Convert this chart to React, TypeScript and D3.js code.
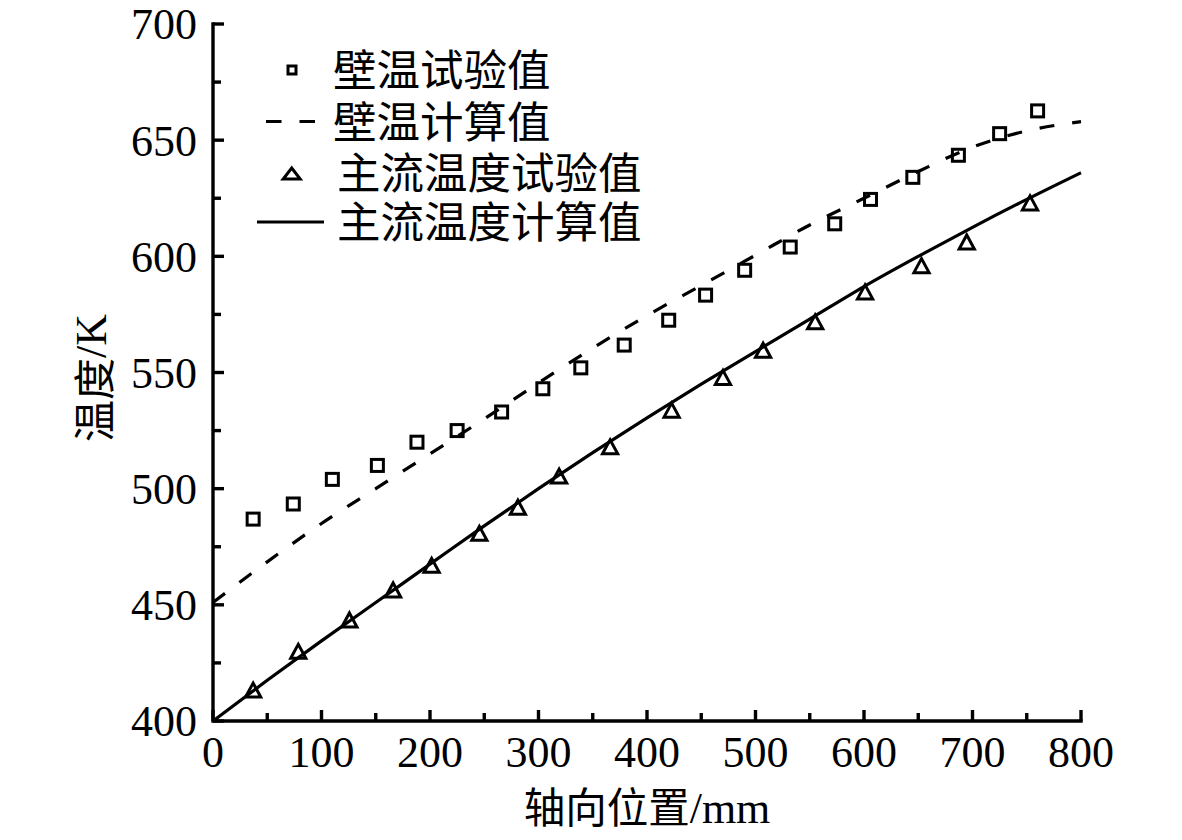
import React from "react";
import * as d3 from "d3";

// ---- data ----
const wallExpX = [37, 74, 110, 151.5, 188, 225, 266, 304, 339, 379, 420, 454, 490, 532, 573, 606, 645, 687, 725, 760];
const wallExpT = [486.9, 493.4, 504, 510, 520, 525, 533, 543, 552, 561.8, 572.5, 583.3, 594, 604, 614, 624.5, 634, 643.5, 652.8, 662.6];

const mainExpX = [37, 78.6, 125.7, 166, 201.5, 245.5, 281, 319, 366, 422.7, 470, 507, 555, 601, 653, 694.7, 753];
const mainExpT = [413.3, 430, 443.5, 456.4, 467, 480.8, 492, 505.4, 518, 533.8, 547.9, 559.6, 571.8, 584.7, 596, 606.2, 623];

const calcX = [0, 50, 100, 150, 200, 250, 300, 350, 400, 450, 500, 550, 600, 650, 700, 750, 800];
const wallCalcT = [451, 468.5, 485, 500, 515, 530, 545.5, 560.5, 574.5, 587.5, 600.5, 613.5, 625, 636.5, 647, 654, 658];
const mainCalcT = [400, 417.5, 434.5, 451, 467.5, 484, 500, 515.5, 530.5, 545, 559, 573, 587, 600, 612.5, 624.5, 636];

const xTicks = [0, 100, 200, 300, 400, 500, 600, 700, 800];
const yTicks = [400, 450, 500, 550, 600, 650, 700];

const legendLabels = ["壁温试验值", "壁温计算值", "主流温度试验值", "主流温度计算值"];
const xLabel = "轴向位置/mm";
const yLabel = "温度/K";

// ---- layout ----
const W = 1182;
const H = 840;
const X0 = 213;
const X1 = 1081;
const Y0 = 721;
const Y1 = 24;
const SERIF = "'Liberation Serif', 'Times New Roman', 'Noto Sans CJK SC', serif";
const CJK = "'Noto Sans CJK SC', 'Liberation Serif', sans-serif";

export default function App() {
  const x = d3.scaleLinear().domain([0, 800]).range([X0, X1]);
  const y = d3.scaleLinear().domain([400, 700]).range([Y0, Y1]);

  const xMinor = xTicks.slice(0, -1).map((t) => t + 50);
  const yMinor = yTicks.slice(0, -1).map((t) => t + 25);

  const line = d3
    .line<number>()
    .x((_, i) => x(calcX[i]))
    .y((d) => y(d))
    .curve(d3.curveMonotoneX);

  const sq = 12;
  const triPath = (cx: number, cy: number, hw: number, h: number) =>
    `M${cx - hw},${cy + h / 2}L${cx + hw},${cy + h / 2}L${cx},${cy - h / 2}Z`;

  const legendRowsY = [67.5, 119, 170, 219.5];
  const legendTextX = [333, 333, 337, 337];

  return (
    <svg
      width={W}
      height={H}
      style={{ position: "absolute", left: 0, top: 0, background: "#fff" }}
    >
      <rect x={0} y={0} width={W} height={H} fill="#fff" />

      {/* calc lines */}
      <path
        d={line(wallCalcT) || ""}
        fill="none"
        stroke="#000"
        strokeWidth={3.2}
        strokeDasharray="15 18"
      />
      <path d={line(mainCalcT) || ""} fill="none" stroke="#000" strokeWidth={3.2} />

      {/* experimental markers */}
      {wallExpX.map((v, i) => (
        <rect
          key={"s" + i}
          x={x(v) - sq / 2}
          y={y(wallExpT[i]) - sq / 2}
          width={sq}
          height={sq}
          fill="none"
          stroke="#000"
          strokeWidth={3}
        />
      ))}
      {mainExpX.map((v, i) => (
        <path
          key={"t" + i}
          d={triPath(x(v), y(mainExpT[i]), 7.6, 14)}
          fill="none"
          stroke="#000"
          strokeWidth={3}
          strokeLinejoin="miter"
        />
      ))}

      {/* axes */}
      <g stroke="#000" strokeWidth={3.4} fill="none">
        <path d={`M${X0},${Y1}V${Y0}H${X1}`} strokeLinecap="square" />
        {xTicks.map((t) => (
          <line key={"xt" + t} x1={x(t)} x2={x(t)} y1={Y0} y2={Y0 - 11} />
        ))}
        {xMinor.map((t) => (
          <line key={"xm" + t} x1={x(t)} x2={x(t)} y1={Y0} y2={Y0 - 8} />
        ))}
        {yTicks.map((t) => (
          <line key={"yt" + t} x1={X0} x2={X0 + 11} y1={y(t)} y2={y(t)} />
        ))}
        {yMinor.map((t) => (
          <line key={"ym" + t} x1={X0} x2={X0 + 8} y1={y(t)} y2={y(t)} />
        ))}
      </g>

      <g fontFamily={SERIF} fontSize={44} fill="#000">
        {xTicks.map((t) => (
          <text key={"xl" + t} x={x(t)} y={767} textAnchor="middle">
            {t}
          </text>
        ))}
        {yTicks.map((t) => (
          <text key={"yl" + t} x={197} y={y(t)} dy="0.35em" textAnchor="end">
            {t}
          </text>
        ))}
      </g>

      {/* axis titles */}
      <text
        x={(X0 + X1) / 2}
        y={823}
        textAnchor="middle"
        fontFamily={CJK}
        fontSize={41.5}
        fill="#000"
      >
        {xLabel.slice(0, 4)}
        <tspan fontFamily={SERIF} fontSize={44}>
          {xLabel.slice(4)}
        </tspan>
      </text>
      <text
        transform={`translate(91,378) rotate(-90)`}
        textAnchor="middle"
        dominantBaseline="central"
        fontFamily={CJK}
        fontSize={42}
        fill="#000"
      >
        {yLabel.slice(0, 2)}
        <tspan fontFamily={SERIF} fontSize={44}>
          {yLabel.slice(2)}
        </tspan>
      </text>

      {/* legend */}
      <g>
        <rect
          x={292 - 4}
          y={legendRowsY[0] + 2.5 - 4}
          width={8}
          height={8}
          fill="none"
          stroke="#000"
          strokeWidth={3}
        />
        <line
          x1={266}
          x2={315}
          y1={legendRowsY[1] + 2.5}
          y2={legendRowsY[1] + 2.5}
          stroke="#000"
          strokeWidth={3.2}
          strokeDasharray="15.5 18"
        />
        <path
          d={triPath(291.7, legendRowsY[2] + 3.5, 8.5, 11)}
          fill="none"
          stroke="#000"
          strokeWidth={3}
        />
        <line
          x1={257}
          x2={324}
          y1={legendRowsY[3] + 2.5}
          y2={legendRowsY[3] + 2.5}
          stroke="#000"
          strokeWidth={3.2}
        />
        {legendLabels.map((lab, i) => (
          <text
            key={lab}
            x={legendTextX[i]}
            y={legendRowsY[i]}
            dominantBaseline="central"
            fontFamily={CJK}
            fontSize={43.5}
            fill="#000"
          >
            {lab}
          </text>
        ))}
      </g>
    </svg>
  );
}
